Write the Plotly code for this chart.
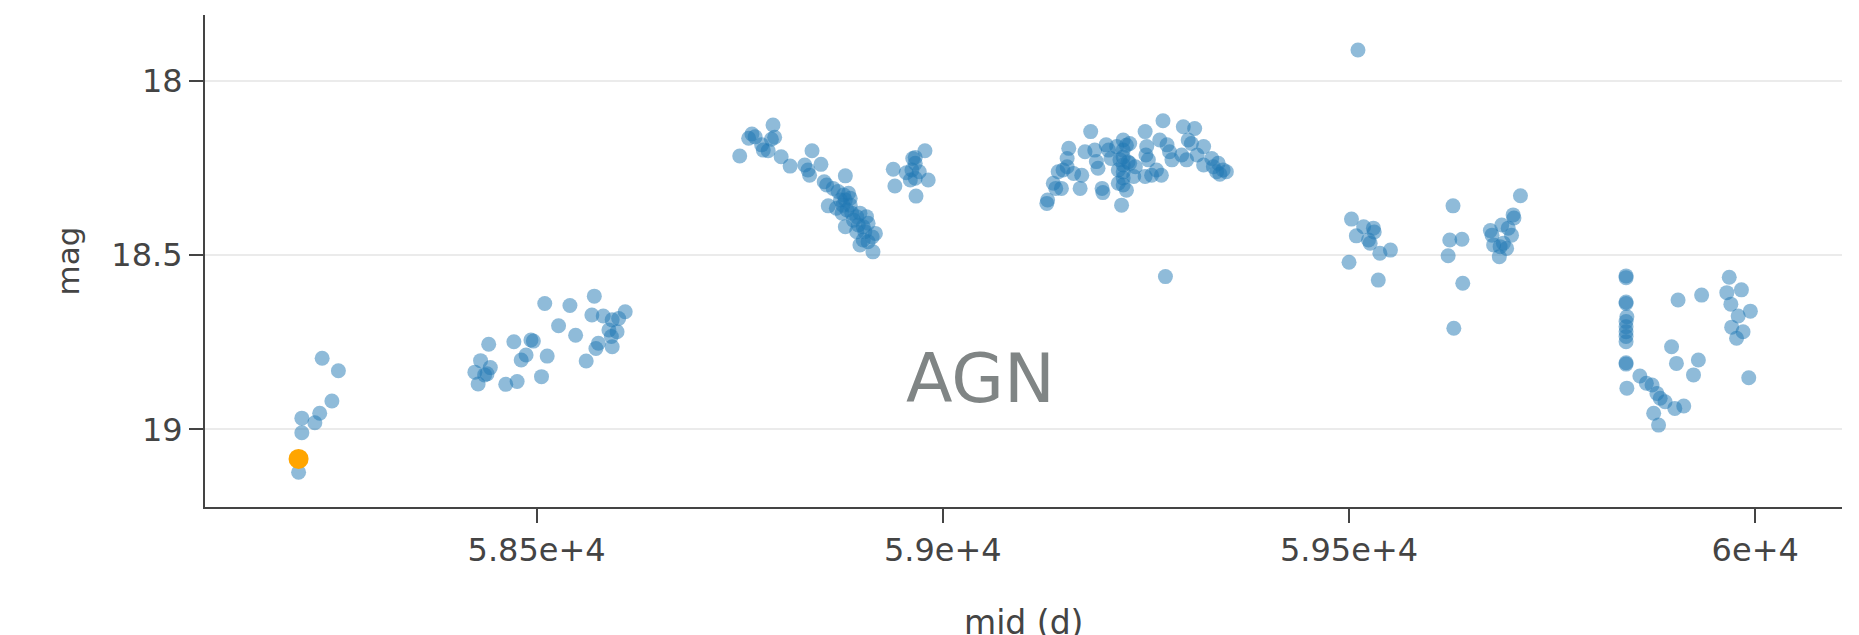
import plotly.graph_objects as go

# Light curve of the AGN: observation mid-time (MJD) and magnitude, grouped by season
mjd_s1 = [58236, 58256, 58248, 58233, 58227, 58211, 58211, 58207]
mag_s1 = [18.796, 18.832, 18.919, 18.954, 18.981, 18.968, 19.010, 19.123]

mjd_s2 = [58424, 58428, 58431, 58436, 58439, 58443, 58441, 58462, 58476, 58472,
          58493, 58496, 58487, 58481, 58513, 58506, 58510, 58541, 58527, 58548,
          58561, 58571, 58568, 58573, 58576, 58582, 58589, 58592, 58593, 58593,
          58601, 58609, 58599]
mag_s2 = [18.836, 18.870, 18.803, 18.844, 18.841, 18.823, 18.756, 18.871, 18.863, 18.749,
          18.744, 18.747, 18.787, 18.801, 18.790, 18.849, 18.639, 18.645, 18.703, 18.730,
          18.804, 18.618, 18.672, 18.768, 18.753, 18.675, 18.715, 18.734, 18.763, 18.686,
          18.682, 18.663, 18.720]

mjd_s3 = [58750, 58761, 58765, 58769, 58777, 58779, 58785, 58791, 58793, 58789,
          58801, 58812, 58830, 58839, 58850, 58836, 58834, 58854, 58857, 58865,
          58880, 58871, 58878, 58884, 58874, 58880, 58886, 58859, 58869, 58876,
          58882, 58888, 58894, 58898, 58906, 58890, 58880, 58896, 58902, 58908,
          58894, 58904, 58917, 58913, 58898, 58908, 58914, 58902, 58886, 58877,
          58939, 58941, 58955, 58966, 58978, 58966, 58962, 58971, 58960, 58966,
          58982, 58967, 58963]
mag_s3 = [18.216, 18.165, 18.153, 18.161, 18.184, 18.199, 18.201, 18.127, 18.162, 18.168,
          18.218, 18.245, 18.242, 18.201, 18.240, 18.271, 18.256, 18.290, 18.299, 18.309,
          18.273, 18.318, 18.328, 18.323, 18.342, 18.342, 18.337, 18.359, 18.366, 18.380,
          18.371, 18.380, 18.390, 18.380, 18.390, 18.400, 18.419, 18.414, 18.419, 18.409,
          18.433, 18.433, 18.438, 18.448, 18.471, 18.462, 18.491, 18.457, 18.357, 18.357,
          18.254, 18.302, 18.264, 18.220, 18.201, 18.237, 18.256, 18.261, 18.285, 18.280,
          18.285, 18.331, 18.223]

mjd_s4 = [59128, 59129, 59136, 59139, 59146, 59142, 59153, 59148, 59155, 59153,
          59161, 59169, 59171, 59175, 59182, 59187, 59189, 59191, 59196, 59197,
          59201, 59204, 59207, 59214, 59218, 59220, 59222, 59222, 59222, 59222,
          59222, 59222, 59222, 59226, 59228, 59216, 59216, 59226, 59230, 59230,
          59237, 59235, 59249, 59251, 59250, 59253, 59249, 59257, 59263, 59267,
          59269, 59271, 59276, 59279, 59282, 59274, 59296, 59294, 59300, 59302,
          59306, 59310, 59313, 59321, 59321, 59331, 59333, 59339, 59337, 59341,
          59349, 59345]
mag_s4 = [18.352, 18.342, 18.294, 18.309, 18.309, 18.261, 18.247, 18.256, 18.194, 18.223,
          18.266, 18.309, 18.271, 18.204, 18.146, 18.199, 18.232, 18.251, 18.309, 18.321,
          18.184, 18.199, 18.223, 18.189, 18.227, 18.357, 18.170, 18.199, 18.219, 18.242,
          18.262, 18.279, 18.299, 18.185, 18.233, 18.256, 18.294, 18.314, 18.180, 18.237,
          18.247, 18.275, 18.146, 18.189, 18.213, 18.227, 18.275, 18.271, 18.256, 18.170,
          18.271, 18.115, 18.184, 18.204, 18.227, 18.562, 18.132, 18.213, 18.227, 18.170,
          18.180, 18.137, 18.213, 18.189, 18.242, 18.223, 18.247, 18.237, 18.261, 18.268,
          18.261, 18.256]

mjd_s5 = [59511, 59503, 59518, 59530, 59509, 59524, 59526, 59538, 59551, 59500,
          59536, 59531, 59628, 59624, 59639, 59622, 59640, 59629, 59711, 59702,
          59703, 59688, 59674, 59676, 59696, 59700, 59678, 59686, 59694, 59685,
          59690]
mag_s5 = [17.912, 18.397, 18.419, 18.423, 18.445, 18.457, 18.466, 18.495, 18.486, 18.521,
          18.572, 18.434, 18.359, 18.457, 18.455, 18.502, 18.581, 18.710, 18.330, 18.385,
          18.394, 18.414, 18.430, 18.443, 18.423, 18.443, 18.471, 18.476, 18.481, 18.505,
          18.466]

mjd_s6 = [59841, 59841, 59841, 59841, 59842, 59841, 59841, 59841, 59841, 59841,
          59841, 59841, 59842, 59858, 59866, 59873, 59879, 59883, 59889, 59901,
          59912, 59875, 59881, 59905, 59934, 59897, 59903, 59930, 59924, 59968,
          59965, 59983, 59970, 59979, 59994, 59971, 59985, 59977, 59992]
mag_s6 = [18.560, 18.565, 18.635, 18.639, 18.677, 18.691, 18.706, 18.720, 18.734, 18.749,
          18.809, 18.813, 18.882, 18.847, 18.868, 18.873, 18.897, 18.911, 18.921, 18.940,
          18.933, 18.954, 18.988, 18.629, 18.615, 18.763, 18.811, 18.801, 18.844, 18.564,
          18.608, 18.600, 18.641, 18.675, 18.661, 18.707, 18.720, 18.739, 18.852]

# Highlighted observation
mjd_current = [58207]
mag_current = [19.085]

mjd = mjd_s1 + mjd_s2 + mjd_s3 + mjd_s4 + mjd_s5 + mjd_s6
mag = mag_s1 + mag_s2 + mag_s3 + mag_s4 + mag_s5 + mag_s6

FONT = "DejaVu Sans, Verdana, sans-serif"

fig = go.Figure()
fig.add_trace(go.Scatter(
    x=mjd, y=mag, mode="markers",
    marker=dict(size=15, color="#1f77b4", opacity=0.5, line=dict(width=0)),
    showlegend=False,
))
fig.add_trace(go.Scatter(
    x=mjd_current, y=mag_current, mode="markers",
    marker=dict(size=20, color="orange", line=dict(width=0)),
    showlegend=False,
))

fig.add_annotation(
    text="AGN", xref="paper", yref="paper", x=0.4735, y=0.262,
    xanchor="center", yanchor="middle", showarrow=False,
    font=dict(family=FONT, size=68, color="rgb(128,133,133)"),
)

# x-axis title, set low under the tick labels (runs past the bottom edge of the figure)
fig.add_annotation(
    text="mid (d)", xref="paper", yref="paper", x=0.5, y=-0.234,
    xanchor="center", yanchor="middle", showarrow=False,
    font=dict(family=FONT, size=33, color="#444"),
)

axis_common = dict(
    showline=True, linecolor="#444", linewidth=2,
    ticks="outside", ticklen=14, tickwidth=2, tickcolor="#444",
    tickfont=dict(family=FONT, size=32, color="#444"),
    zeroline=False, automargin=False,
)

fig.update_layout(
    width=1859, height=635,
    margin=dict(l=205, r=17, t=15, b=128),
    paper_bgcolor="white", plot_bgcolor="white",
    font=dict(family=FONT, color="#444"),
    xaxis=dict(
        **axis_common,
        range=[58091.8, 60106.8], dtick=500, tick0=58000,
        exponentformat="e", showgrid=False,
    ),
    yaxis=dict(
        **axis_common,
        range=[19.2229, 17.8115], dtick=0.5, tick0=18,
        showgrid=True, gridcolor="#ebebeb", gridwidth=2,
        title=dict(text="mag", font=dict(family=FONT, size=31, color="#444"), standoff=22),
    ),
)

fig.write_html("out.html")
